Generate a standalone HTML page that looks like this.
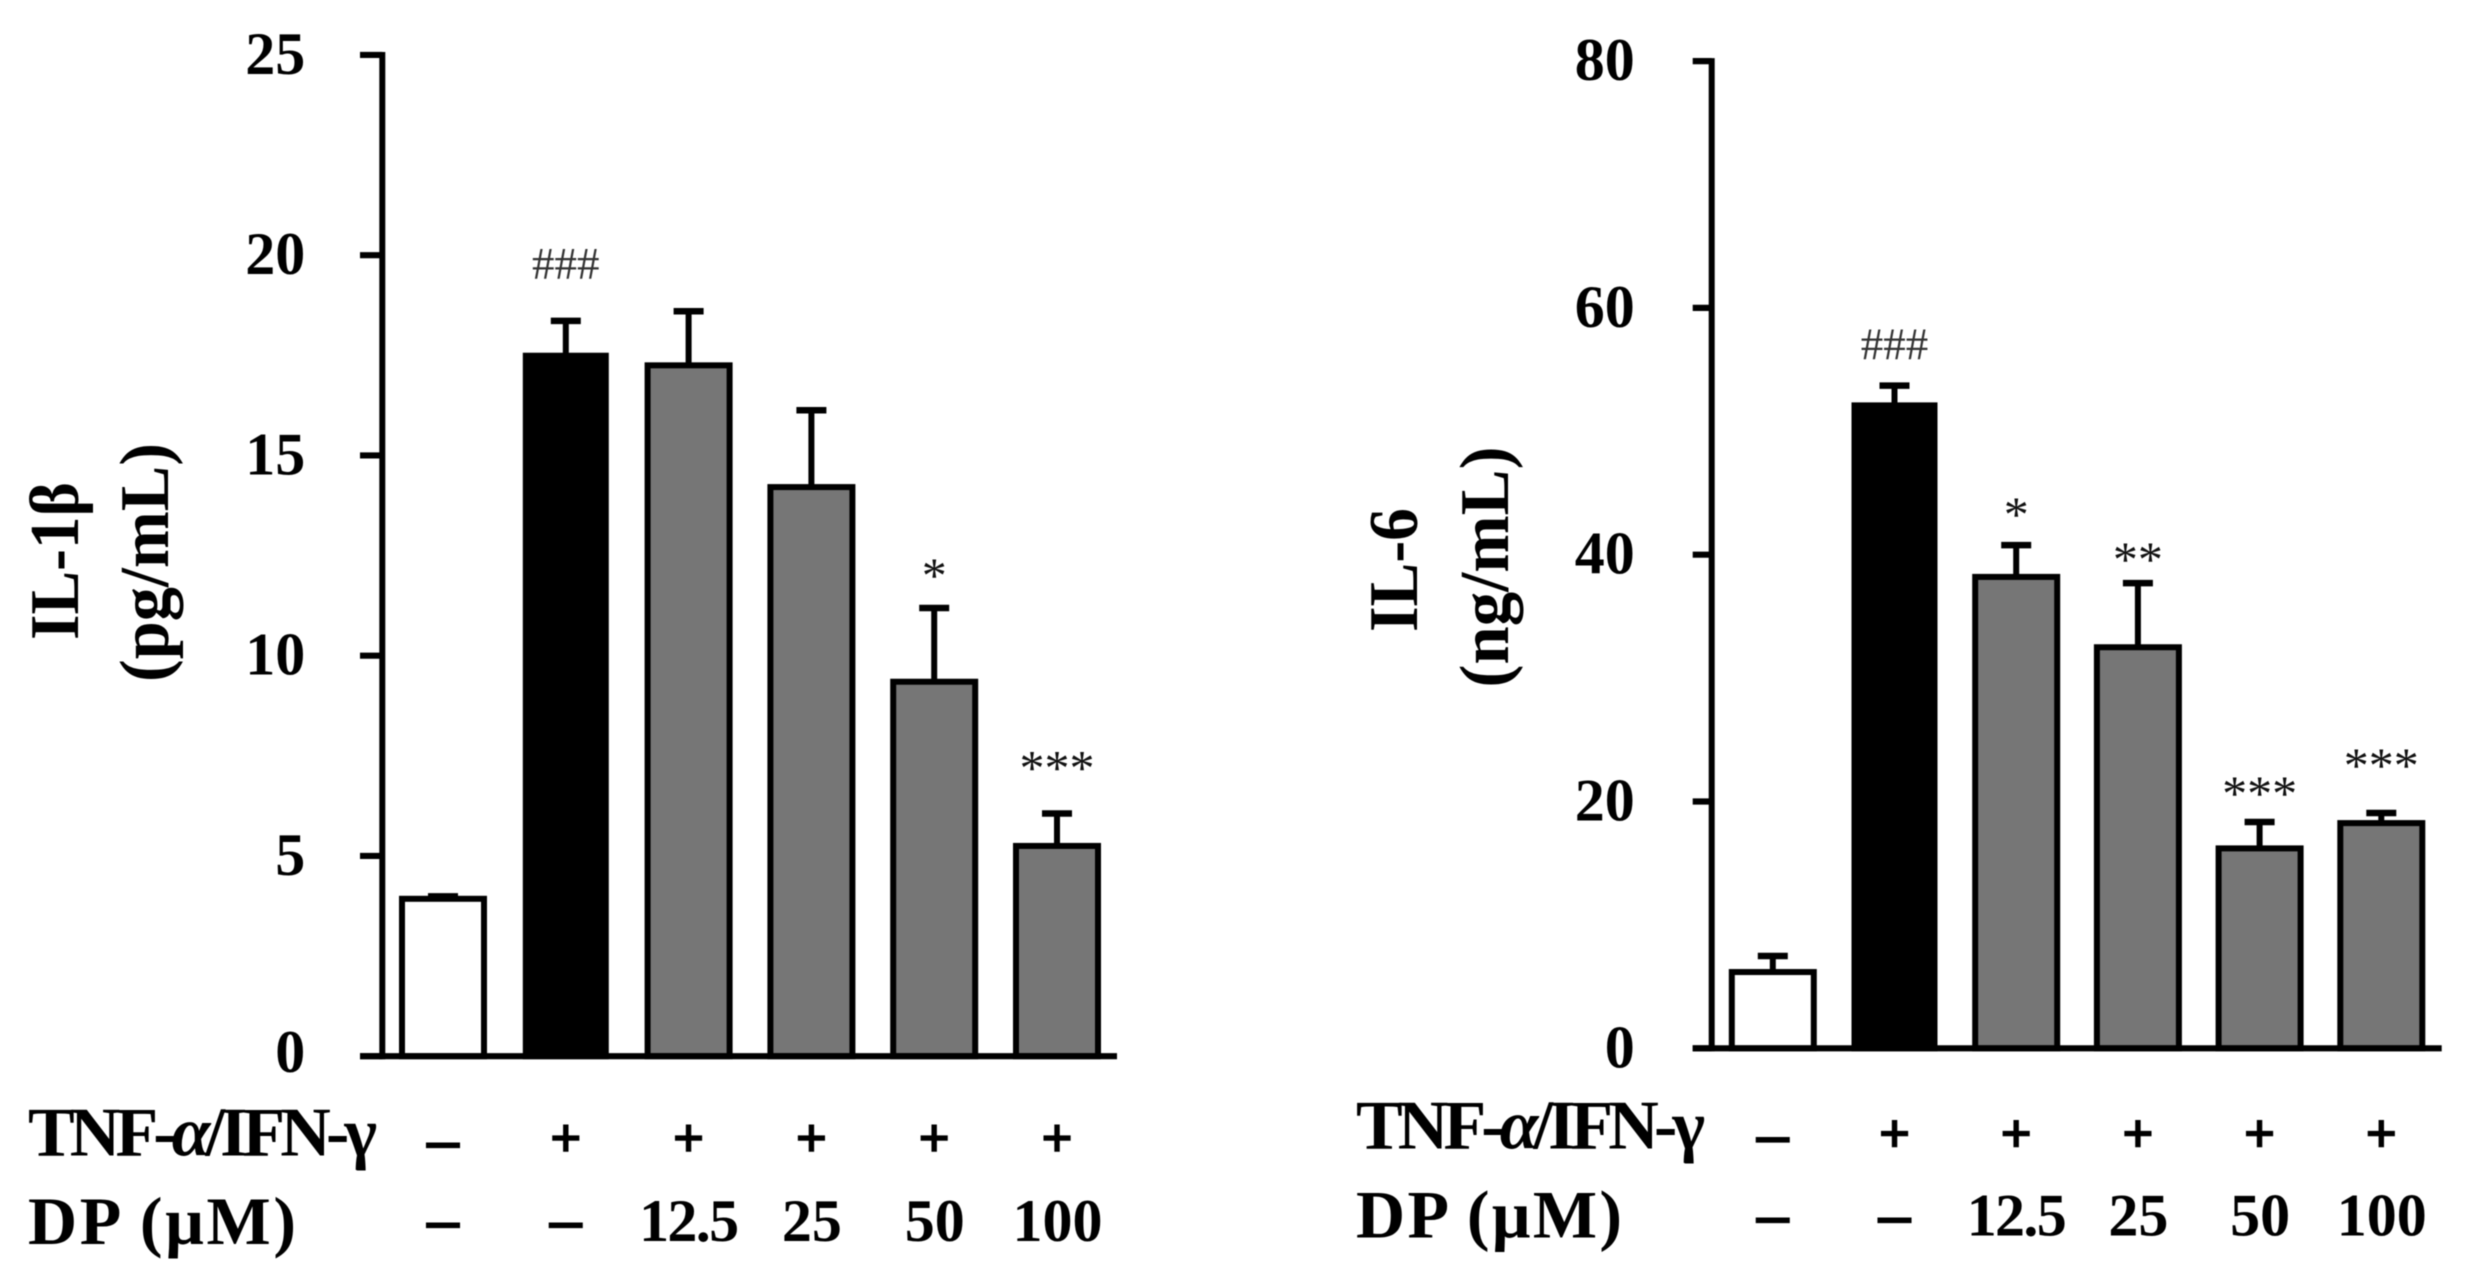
<!DOCTYPE html>
<html lang="en">
<head>
<meta charset="utf-8">
<title>IL-1β and IL-6 bar charts</title>
<style>
html,body{margin:0;padding:0;background:#fff;}
svg{display:block;filter:blur(0.5px);}
text{font-family:"Liberation Serif","Noto Serif CJK SC",serif;fill:#000;}
</style>
</head>
<body>
<svg id="figure" width="2475" height="1279" viewBox="0 0 2475 1279" xmlns="http://www.w3.org/2000/svg"></svg>
<script>
// Shared categories
const treatmentRow = ['–', '+', '+', '+', '+', '+'];
const doseRow = ['–', '–', '12.5', '25', '50', '100'];
const barFills = ['#ffffff', '#000000', '#767676', '#767676', '#767676', '#767676'];

// IL-1β panel data
const il1bValues = [3.93, 17.49, 17.25, 14.21, 9.35, 5.25];
const il1bErrorTops = [3.99, 18.36, 18.6, 16.13, 11.19, 6.06];
const il1bTicks = [0, 5, 10, 15, 20, 25];
const il1bSignificance = ['', '###', '', '', '*', '***'];
const il1bSigLift = [0, 1.04, 0, 0, 0.4, 0.72];

// IL-6 panel data
const il6Values = [6.18, 52.1, 38.2, 32.5, 16.2, 18.25];
const il6ErrorTops = [7.48, 53.7, 40.78, 37.7, 18.34, 19.07];
const il6Ticks = [0, 20, 40, 60, 80];
const il6Significance = ['', '###', '*', '**', '***', '***'];
const il6SigLift = [0, 2.1, 1.13, 0.57, 0.97, 2.51];

const NS = 'http://www.w3.org/2000/svg';
const figure = document.getElementById('figure');

function node(parent, tag, attrs, content) {
  const el = document.createElementNS(NS, tag);
  for (const key in attrs) el.setAttribute(key, attrs[key]);
  if (content !== undefined) el.textContent = content;
  parent.appendChild(el);
  return el;
}

function drawPanel(cfg) {
  const yScale = v => cfg.y0 - v * cfg.pxPerUnit;
  const xScale = i => cfg.x0 + i * cfg.step;

  const g = node(figure, 'g', {});
  
  

  // Error bars sit behind the bars
  cfg.values.forEach((v, i) => {
    const top = yScale(cfg.errorTops[i]);
    const stem = node(g, 'line', {x1: xScale(i), x2: xScale(i), y1: yScale(v), y2: top, stroke: '#000', 'stroke-width': 6});
    
    
    const cap = node(g, 'line', {x1: xScale(i) - 15, x2: xScale(i) + 15, y1: top, y2: top, stroke: '#000', 'stroke-width': 6.5});
    
    
  });

  // Bars
  cfg.values.forEach((v, i) => {
    const inner = barFills[i] === '#000000' ? 80 : 82;
    const bar = node(g, 'rect', {x: xScale(i) - inner / 2, width: inner, y: yScale(v), height: cfg.y0 - yScale(v), fill: barFills[i], stroke: '#000', 'stroke-width': 6});
    
    
  });

  // Y axis
  const yAxis = node(g, 'line', {x1: cfg.axisX, x2: cfg.axisX, y1: yScale(cfg.ticks[cfg.ticks.length - 1]) - 3, y2: cfg.y0 + 3, stroke: '#000', 'stroke-width': 6});
  
  

  // X axis
  const xAxis = node(g, 'line', {x1: cfg.axisX - cfg.tickLen, x2: cfg.xEnd, y1: cfg.y0, y2: cfg.y0, stroke: '#000', 'stroke-width': 6.2});
  
  

  // Ticks and tick labels
  cfg.ticks.forEach(t => {
    const tick = node(g, 'line', {x1: cfg.axisX - cfg.tickLen, x2: cfg.axisX, y1: yScale(t), y2: yScale(t), stroke: '#000', 'stroke-width': 6.2});
    
    
    const dy = t === 0 ? cfg.zeroLabelDy : 19;
    const label = node(g, 'text', {x: cfg.axisX - 77, y: yScale(t) + dy, 'text-anchor': 'end', 'font-size': 60, 'font-weight': 'bold'}, String(t));
    
    
  });

  // Y axis titles
  const titleA = node(g, 'text', {transform: 'translate(' + cfg.title1X + ' ' + cfg.title1Y + ') rotate(-90)', 'text-anchor': 'middle', 'font-size': 70, 'font-weight': 'bold', textLength: cfg.title1Len, lengthAdjust: 'spacingAndGlyphs'}, cfg.title1);
  
  
  const titleB = node(g, 'text', {transform: 'translate(' + cfg.title2X + ' ' + cfg.title2Y + ') rotate(-90)', 'text-anchor': 'middle', 'font-size': 70, 'font-weight': 'bold', textLength: cfg.title2Len, lengthAdjust: 'spacingAndGlyphs'}, cfg.title2);
  
  

  // Significance marks
  cfg.significance.forEach((s, i) => {
    if (!s) return;
    const isHash = s[0] === '#';
    const mark = node(g, 'text', {x: xScale(i), y: yScale(cfg.errorTops[i] + cfg.sigLift[i]), 'text-anchor': 'middle', 'font-size': isHash ? 45 : 50, style: isHash ? 'fill:#333333' : 'fill:#111111'}, s);
    
    
  });

  // Treatment table row labels
  const rowA = node(g, 'text', {x: cfg.rowLabelX, y: cfg.row1Base, 'font-size': 70, 'font-weight': 'bold', style: 'letter-spacing:-4.9px'});
  
  
  node(rowA, 'tspan', {}, 'TNF-');
  node(rowA, 'tspan', {'font-style': 'italic'}, 'α');
  node(rowA, 'tspan', {}, '/IFN-γ');

  const rowB = node(g, 'text', {x: cfg.rowLabelX, y: cfg.row2Base, 'font-size': 68, 'font-weight': 'bold', textLength: cfg.doseLabelLen, lengthAdjust: 'spacing'}, 'DP (μM)');
  
  

  // Treatment table entries
  treatmentRow.forEach((s, i) => {
    const isDash = s === '–';
    const attrs = isDash
      ? {x: xScale(i), y: cfg.dash1Y + 14.5, 'text-anchor': 'middle', 'font-size': 64, 'font-weight': 'bold', stroke: '#000', 'stroke-width': 1.2}
      : {x: xScale(i), y: cfg.plusY + 14, 'text-anchor': 'middle', 'font-size': 55, 'font-weight': 'bold', stroke: '#000', 'stroke-width': 1.6};
    const cell = node(g, 'text', attrs, s);
    
    
  });
  doseRow.forEach((s, i) => {
    const isDash = s === '–';
    const attrs = isDash
      ? {x: xScale(i), y: cfg.dash2Y + 14.5, 'text-anchor': 'middle', 'font-size': 64, 'font-weight': 'bold', stroke: '#000', 'stroke-width': 1.2}
      : {x: xScale(i) + 0.5, y: cfg.valueBase, 'text-anchor': 'middle', 'font-size': 60, 'font-weight': 'bold'};
    if (s.indexOf('.') >= 0) {
      attrs.textLength = 100;
      attrs.lengthAdjust = 'spacing';
    }
    const cell = node(g, 'text', attrs, s);
    
    
  });
}

drawPanel({
  name: 'il1b', values: il1bValues, errorTops: il1bErrorTops, ticks: il1bTicks,
  significance: il1bSignificance, sigLift: il1bSigLift,
  y0: 1056.2, pxPerUnit: 40.05, x0: 443, step: 122.8, axisX: 382.3, tickLen: 22.3, xEnd: 1117, zeroLabelDy: 16,
  title1: 'IL-1β', title1X: 78, title1Y: 561, title1Len: 158,
  title2: '(pg/mL)', title2X: 168, title2Y: 562.5, title2Len: 239,
  rowLabelX: 28, row1Base: 1155.7, row2Base: 1244, doseLabelLen: 268,
  dash1Y: 1145.3, dash2Y: 1225.3, plusY: 1142.7, valueBase: 1241
});

drawPanel({
  name: 'il6', values: il6Values, errorTops: il6ErrorTops, ticks: il6Ticks,
  significance: il6Significance, sigLift: il6SigLift,
  y0: 1048.3, pxPerUnit: 12.34, x0: 1772.8, step: 121.7, axisX: 1711.7, tickLen: 19, xEnd: 2441.7, zeroLabelDy: 19,
  title1: 'IL-6', title1X: 1417, title1Y: 570, title1Len: 124,
  title2: '(ng/mL)', title2X: 1508, title2Y: 567, title2Len: 241,
  rowLabelX: 1356, row1Base: 1148.5, row2Base: 1237.5, doseLabelLen: 266,
  dash1Y: 1140, dash2Y: 1220.3, plusY: 1138, valueBase: 1235.7
});
</script>
</body>
</html>
